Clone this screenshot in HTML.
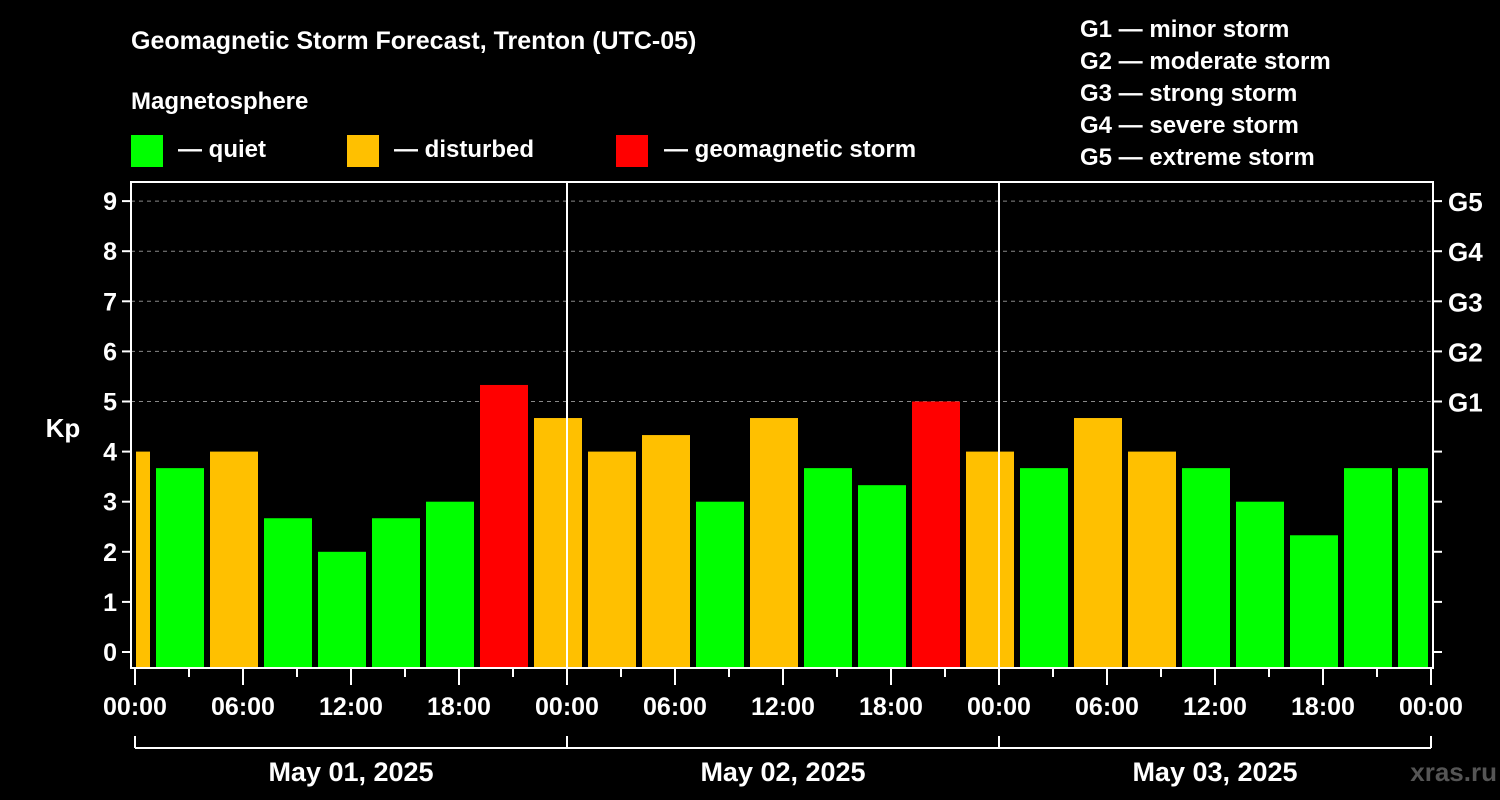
<!DOCTYPE html>
<html><head><meta charset="utf-8"><style>
html,body{margin:0;padding:0;background:#000;width:1500px;height:800px;overflow:hidden}
svg{display:block;font-family:"Liberation Sans",Arial,sans-serif;font-weight:bold}
</style></head><body>
<svg id="chart" width="1500" height="800" viewBox="0 0 1500 800">
<rect x="0" y="0" width="1500" height="800" fill="#000"/>
<text x="131" y="49" fill="#fff" font-size="25">Geomagnetic Storm Forecast, Trenton (UTC-05)</text>
<text x="131" y="109" fill="#fff" font-size="24">Magnetosphere</text>
<g><rect x="131" y="135" width="32" height="32" fill="#00ff00"/><text x="178" y="157" fill="#fff" font-size="24">— quiet</text></g>
<g><rect x="347" y="135" width="32" height="32" fill="#ffc000"/><text x="394" y="157" fill="#fff" font-size="24">— disturbed</text></g>
<g><rect x="616" y="135" width="32" height="32" fill="#ff0000"/><text x="664" y="157" fill="#fff" font-size="24">— geomagnetic storm</text></g>
<g fill="#fff" font-size="24">
<text x="1080" y="37">G1 — minor storm</text>
<text x="1080" y="69">G2 — moderate storm</text>
<text x="1080" y="101">G3 — strong storm</text>
<text x="1080" y="133">G4 — severe storm</text>
<text x="1080" y="165">G5 — extreme storm</text>
</g>
<text x="63" y="437" fill="#fff" font-size="26" text-anchor="middle">Kp</text>
<text x="1497" y="781" fill="#555" font-size="26" text-anchor="end">xras.ru</text>
<g id="plot"></g>
</svg>
<script>
const kpValues = [4.0,3.67,4.0,2.67,2.0,2.67,3.0,5.33,4.67,4.0,4.33,3.0,4.67,3.67,3.33,5.0,4.0,3.67,4.67,4.0,3.67,3.0,2.33,3.67,3.67];
const startHour = -2;
const yTicks = [0,1,2,3,4,5,6,7,8,9];
const gLabels = ["G1","G2","G3","G4","G5"];
const xTickLabels = ["00:00","06:00","12:00","18:00","00:00","06:00","12:00","18:00","00:00","06:00","12:00","18:00","00:00"];
const dayLabels = ["May 01, 2025","May 02, 2025","May 03, 2025"];

const NS="http://www.w3.org/2000/svg";
const plot=document.getElementById('plot');
const L=131,R=1433,T=182,B=668;
const xs=h=>135+h*18;
const ys=v=>652-v*50.1;
function mk(tag,attrs,parent){const e=document.createElementNS(NS,tag);for(const k in attrs)e.setAttribute(k,attrs[k]);(parent||plot).appendChild(e);return e;}
function col(v){return v>=5?'#ff0000':(v>=4?'#ffc000':'#00ff00');}

// grid lines
yTicks.forEach(v=>{if(v>=5){const g=mk('line',{x1:L,x2:R,y1:ys(v),y2:ys(v),stroke:'#888','stroke-dasharray':'4,4','stroke-width':1});

}});
// bars
kpValues.forEach((v,i)=>{
  let x0=xs(startHour+i*3)+3,x1=xs(startHour+i*3+3)-3;
  x0=Math.max(x0,L+5);x1=Math.min(x1,R-5);
  const r=mk('rect',{x:x0,y:ys(v),width:x1-x0,height:B-ys(v),fill:col(v)});
  
  
});
// day dividers
[1,2].forEach(d=>{const l=mk('line',{x1:xs(d*24),x2:xs(d*24),y1:T,y2:B,stroke:'#fff','stroke-width':2});

});
// frame
const fr=mk('rect',{x:L,y:T,width:R-L,height:B-T,fill:'none',stroke:'#fff','stroke-width':2});


// y ticks and labels
yTicks.forEach((v,i)=>{
  mk('line',{x1:L-9,x2:L,y1:ys(v),y2:ys(v),stroke:'#fff','stroke-width':2});
  mk('line',{x1:R,x2:R+9,y1:ys(v),y2:ys(v),stroke:'#fff','stroke-width':2});
  const t=mk('text',{x:L-14,y:ys(v)+9,fill:'#fff','font-size':25,'text-anchor':'end'});t.textContent=v;
  
  
  if(v>=5){const g=mk('text',{x:R+15,y:ys(v)+10,fill:'#fff','font-size':26});g.textContent=gLabels[v-5];
  
  }
});
// x ticks
for(let h=0;h<=72;h+=3){const major=h%6===0;mk('line',{x1:xs(h),x2:xs(h),y1:B,y2:B+(major?17:9),stroke:'#fff','stroke-width':2});}
xTickLabels.forEach((s,i)=>{const t=mk('text',{x:xs(i*6),y:715,fill:'#fff','font-size':25,'text-anchor':'middle'});t.textContent=s;

});
// day bracket
mk('line',{x1:xs(0),x2:xs(72),y1:748,y2:748,stroke:'#fff','stroke-width':2});
for(let d=0;d<=3;d++)mk('line',{x1:xs(d*24),x2:xs(d*24),y1:736,y2:748,stroke:'#fff','stroke-width':2});
dayLabels.forEach((s,i)=>{const t=mk('text',{x:xs(i*24+12),y:781,fill:'#fff','font-size':27,'text-anchor':'middle'});t.textContent=s;

});
</script>
</body></html>
